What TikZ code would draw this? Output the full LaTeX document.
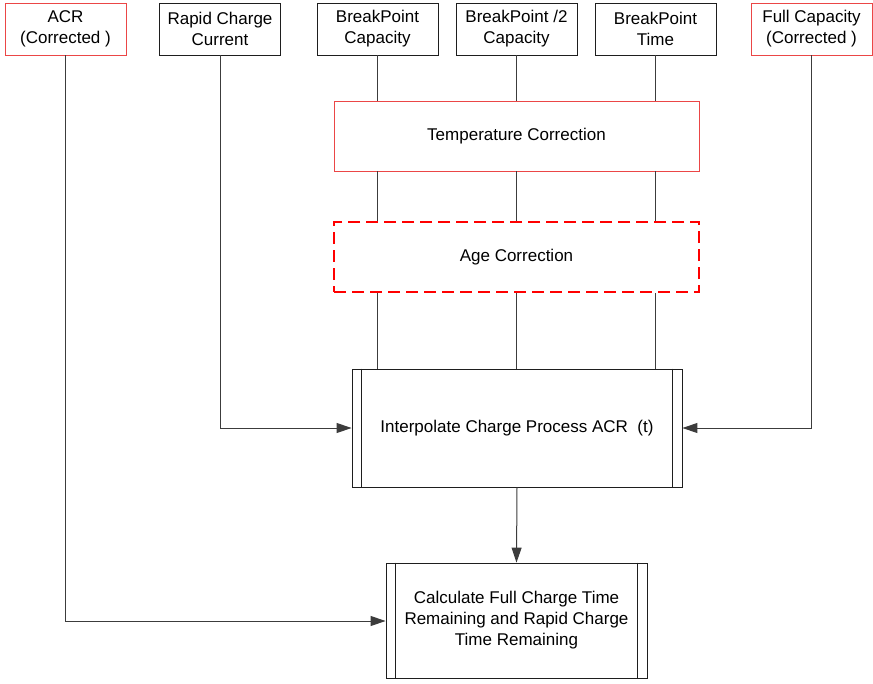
\documentclass[tikz,border=0pt]{standalone}
\usepackage{fontspec}
\setmainfont{Liberation Sans}
\usetikzlibrary{arrows.meta}
\definecolor{linegray}{RGB}{60,60,60}
\definecolor{boxgray}{RGB}{30,30,30}
\definecolor{softred}{RGB}{235,70,70}
\tikzset{
  x=1pt, y=-1pt,
  base/.style={rectangle, inner sep=0pt, align=center, font=\fontsize{17}{21}\selectfont, text=black},
  inbox/.style={base, draw=boxgray, line width=0.9pt, minimum width=121pt, minimum height=52pt},
  redbox/.style={inbox, draw=softred},
  corrbox/.style={base, draw=softred, line width=0.9pt, minimum width=365pt, minimum height=70pt},
  agebox/.style={base, draw=red, line width=2pt, dash pattern=on 12pt off 6pt, minimum width=365pt, minimum height=70pt},
  procbox/.style={base, draw=boxgray, line width=0.9pt},
  wire/.style={draw=linegray, line width=1pt},
  arrow/.style={wire, -{Triangle[length=15pt,width=10pt]}},
}
\begin{document}
\begin{tikzpicture}
\useasboundingbox (0,0) rectangle (873,683);
% input quantities
\node[redbox] (acr)  at (65.5,29) {ACR\\(Corrected )};
\node[inbox]  (rcc)  at (220,29) {Rapid Charge\\Current};
\node[inbox]  (bpc)  at (377.5,29) {BreakPoint\\Capacity};
\node[inbox]  (bp2)  at (516.5,29) {BreakPoint /2\\Capacity};
\node[inbox]  (bpt)  at (655.5,29) {BreakPoint\\Time};
\node[redbox] (fcc)  at (811.5,29) {Full Capacity\\(Corrected )};
% correction stages
\node[corrbox] (tc)  at (516.5,136) {Temperature Correction};
\node[agebox]  (ac)  at (516.5,257) {Age Correction};
% processes
\node[procbox, minimum width=330pt, minimum height=118pt] (ip) at (517,428) {Interpolate Charge Process ACR\ \ (t)};
\node[procbox, minimum width=261pt, minimum height=115pt] (cf) at (516.5,620.5) {Calculate Full Charge Time\\Remaining and Rapid Charge\\Time Remaining};
\foreach \n in {ip,cf}{
  \draw[boxgray, line width=0.9pt] ([xshift=10pt]\n.north west) -- ([xshift=10pt]\n.south west);
  \draw[boxgray, line width=0.9pt] ([xshift=-10pt]\n.north east) -- ([xshift=-10pt]\n.south east);
}
% breakpoint paths through the corrections
\foreach \n in {bpc,bp2,bpt}{
  \draw[wire] (\n.south) -- (\n.south |- tc.north);
  \draw[wire] (\n.south |- tc.south) -- (\n.south |- ac.north);
  \draw[wire] (\n.south |- ac.south) -- (\n.south |- ip.north);
}
% side inputs
\draw[arrow] (rcc.south) |- (ip.west);
\draw[arrow] (fcc.south) |- (ip.east);
\coordinate (acrin) at (cf.west |- 0,621);
\draw[arrow] (acr.south) |- (acrin);
\draw[arrow] (ip.south) -- (cf.north);
\end{tikzpicture}
\end{document}
